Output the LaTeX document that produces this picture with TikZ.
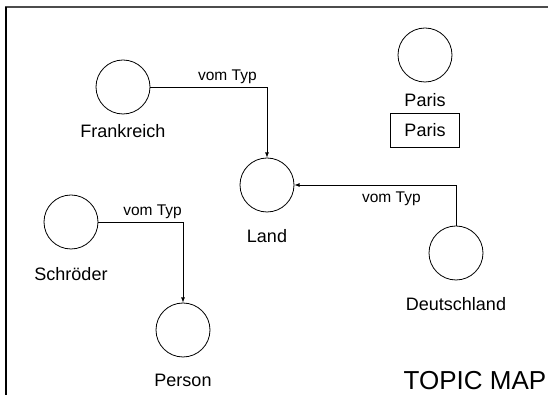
\documentclass[tikz,border=0pt]{standalone}
\usepackage{fontspec}
\setmainfont{Liberation Sans}
\usetikzlibrary{positioning}
\tikzset{>=latex,
  topic/.style={circle,draw,minimum size=54pt,inner sep=0pt},
  topicname/.style={inner sep=0pt,font=\fontsize{18}{20}\selectfont},
  assoc/.style={font=\fontsize{15.5}{17}\selectfont}}

\begin{document}
\begin{tikzpicture}[x=1pt,y=-1pt,line width=0.8pt]
  \useasboundingbox (0,0) rectangle (550,395);
  % frame
  \draw [line width=1.5pt,black!70] (5,7) -- (548,7);
  \draw [line width=1.5pt] (6,7) -- (6,395);

  % topics
  \node [topic] (F) at (123,87) {};
  \node [topic] (L) at (267,185) {};
  \node [topic] (P) at (425,55) {};
  \node [topic] (D) at (456,253) {};
  \node [topic] (S) at (71,222) {};
  \node [topic] (Pe) at (183,330) {};

  \node [topicname,below=10pt of F] (Fn) {Frankreich};
  \node [topicname,below=17pt of L] (Ln) {Land};
  \node [topicname,below=11pt of P] (Pn) {Paris};
  \node [topicname,below=17pt of D] (Dn) {Deutschland};
  \node [topicname,below=18pt of S] (Sn) {Schröder};
  \node [topicname,below=16pt of Pe] (Pen) {Person};

  % occurrence
  \node [draw,minimum width=69pt,minimum height=34pt,topicname] (Po) at (425,130) {Paris};

  % associations
  \draw [->] (F) -| node [assoc,pos=0.33,above] {vom Typ} (L);
  \draw [->] (D) |- node [assoc,pos=0.7,below,yshift=-3pt] {vom Typ} (L);
  \draw [->] (S) -| node [assoc,pos=0.32,above] {vom Typ} (Pe);

  \node [font=\fontsize{26}{28}\selectfont] (title) at (475,381) {TOPIC MAP};
\end{tikzpicture}
\end{document}
